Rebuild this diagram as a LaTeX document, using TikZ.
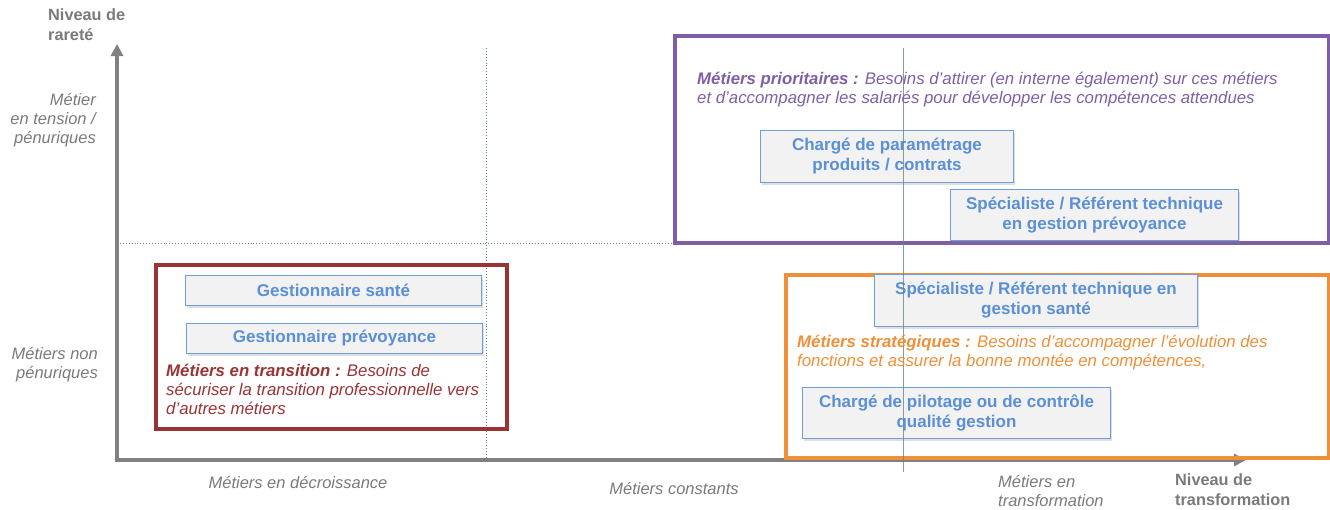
\documentclass[tikz,border=0pt]{standalone}
\usepackage{fontspec}
\setmainfont{Liberation Sans}
\usetikzlibrary{arrows.meta,shadows}
\definecolor{axisgray}{HTML}{808080}
\definecolor{labgray}{HTML}{7A7A7A}
\definecolor{jobblue}{HTML}{5B8FD6}
\definecolor{jobedge}{HTML}{6F9EDB}
\definecolor{jobfill}{HTML}{F2F2F2}
\definecolor{prio}{HTML}{7E5FA6}
\definecolor{trans}{HTML}{9A3334}
\definecolor{strat}{HTML}{F08F3A}
\definecolor{guide}{HTML}{5E8A7A}
\tikzset{
  softshadow/.style={drop shadow={opacity=0.25, shadow xshift=1pt, shadow yshift=-2pt}},
  jobbox/.style={draw=jobedge, line width=1pt, fill=jobfill, font=\fontsize{17}{20}\selectfont\bfseries, text=jobblue, align=center, inner sep=0pt},
  zone/.style={line width=3.5pt},
  desc/.style={font=\fontsize{16.8}{19}\selectfont\itshape, align=left, anchor=north west, inner sep=0pt},
  axlab/.style={font=\fontsize{16.5}{19}\selectfont\itshape, text=labgray, inner sep=0pt},
  axtitle/.style={font=\fontsize{16.3}{20}\selectfont\bfseries, text=labgray, align=left, anchor=north west, inner sep=0pt},
}
\begin{document}
\begin{tikzpicture}[x=1pt,y=-1pt]
\useasboundingbox (0,0) rectangle (1330,509);
% guides
\coordinate (g1t) at (486,48); \coordinate (g1b) at (486,462);
\draw[guide, dotted, line width=0.9pt] (g1t) -- (g1b);
\coordinate (g2l) at (120,243); \coordinate (g2r) at (672,243);
\draw[guide, dotted, line width=0.9pt] (g2l) -- (g2r);
% axes
\coordinate (o) at (117,460);
\coordinate (ytop) at (117,44);
\coordinate (xend) at (1246,460);
\draw[axisgray, line width=3.5pt, -{Triangle[length=12pt,width=12pt]}] (o) -- (ytop);
\draw[axisgray, line width=3.5pt, -{Triangle[length=12pt,width=12pt]}] ([xshift=-1.75pt]o) -- (xend);
% zones
\node[draw=prio, zone, minimum width=654pt, minimum height=207pt, anchor=north west, inner sep=0pt] (prioz) at (673,34) {};
\node[draw=trans, zone, minimum width=351pt, minimum height=164pt, anchor=north west, inner sep=0pt] (transz) at (154,263) {};
\node[draw=strat, zone, minimum width=543pt, minimum height=183pt, anchor=north west, inner sep=0pt] (stratz) at (784,273) {};
% jobs
\node[jobbox, softshadow, minimum width=296pt, minimum height=30pt, anchor=north west] (gs) at (185,275) {Gestionnaire santé};
\node[jobbox, softshadow, minimum width=296pt, minimum height=30pt, anchor=north west] (gp) at (186,323) {Gestionnaire prévoyance};
\node[jobbox, softshadow, minimum width=253pt, minimum height=52pt, anchor=north west] (cp) at (760,130) {Chargé de paramétrage\\produits / contrats};
\node[jobbox, softshadow, minimum width=288pt, minimum height=51pt, anchor=north west] (sp) at (950,189) {Spécialiste / Référent technique\\en gestion prévoyance};
\node[jobbox, softshadow, minimum width=323pt, minimum height=52pt, anchor=north west] (ss) at (874,274) {Spécialiste / Référent technique en\\gestion santé};
\node[jobbox, softshadow, minimum width=308pt, minimum height=51pt, anchor=north west] (cq) at (802,387) {Chargé de pilotage ou de contrôle\\qualité gestion};
% vertical guide over boxes
\coordinate (g3t) at (903,48); \coordinate (g3b) at (903,472);
\draw[guide!60!gray, line width=0.8pt, opacity=0.8] (g3t) -- (g3b);
% descriptions
\node[desc, text=prio] (pd) at (697,72) {\textbf{Métiers prioritaires :} Besoins d’attirer (en interne également) sur ces métiers\\et d’accompagner les salariés pour développer les compétences attendues};
\node[desc, text=trans] (td) at (166,364) {\textbf{Métiers en transition :} Besoins de\\sécuriser la transition professionnelle vers\\d’autres métiers};
\node[desc, text=strat] (sd) at (797,335) {\textbf{Métiers stratégiques :} Besoins d’accompagner l’évolution des\\fonctions et assurer la bonne montée en compétences,};
% axis labels
\node[axtitle] (yt) at (48,8) {Niveau de\\rareté};
\node[axlab, align=right, anchor=north east] (yl1) at (96,93) {Métier\\en tension /\\pénuriques};
\node[axlab, align=right, anchor=north east] (yl2) at (98,347) {Métiers non\\pénuriques};
\node[axlab] (xl1) at (298,483) {Métiers en décroissance};
\node[axlab] (xl2) at (674,488) {Métiers constants};
\node[axlab, align=left, anchor=north west] (xl3) at (998,475) {Métiers en\\transformation};
\node[axtitle] (xt) at (1175,473) {Niveau de\\transformation};
\end{tikzpicture}
\end{document}
